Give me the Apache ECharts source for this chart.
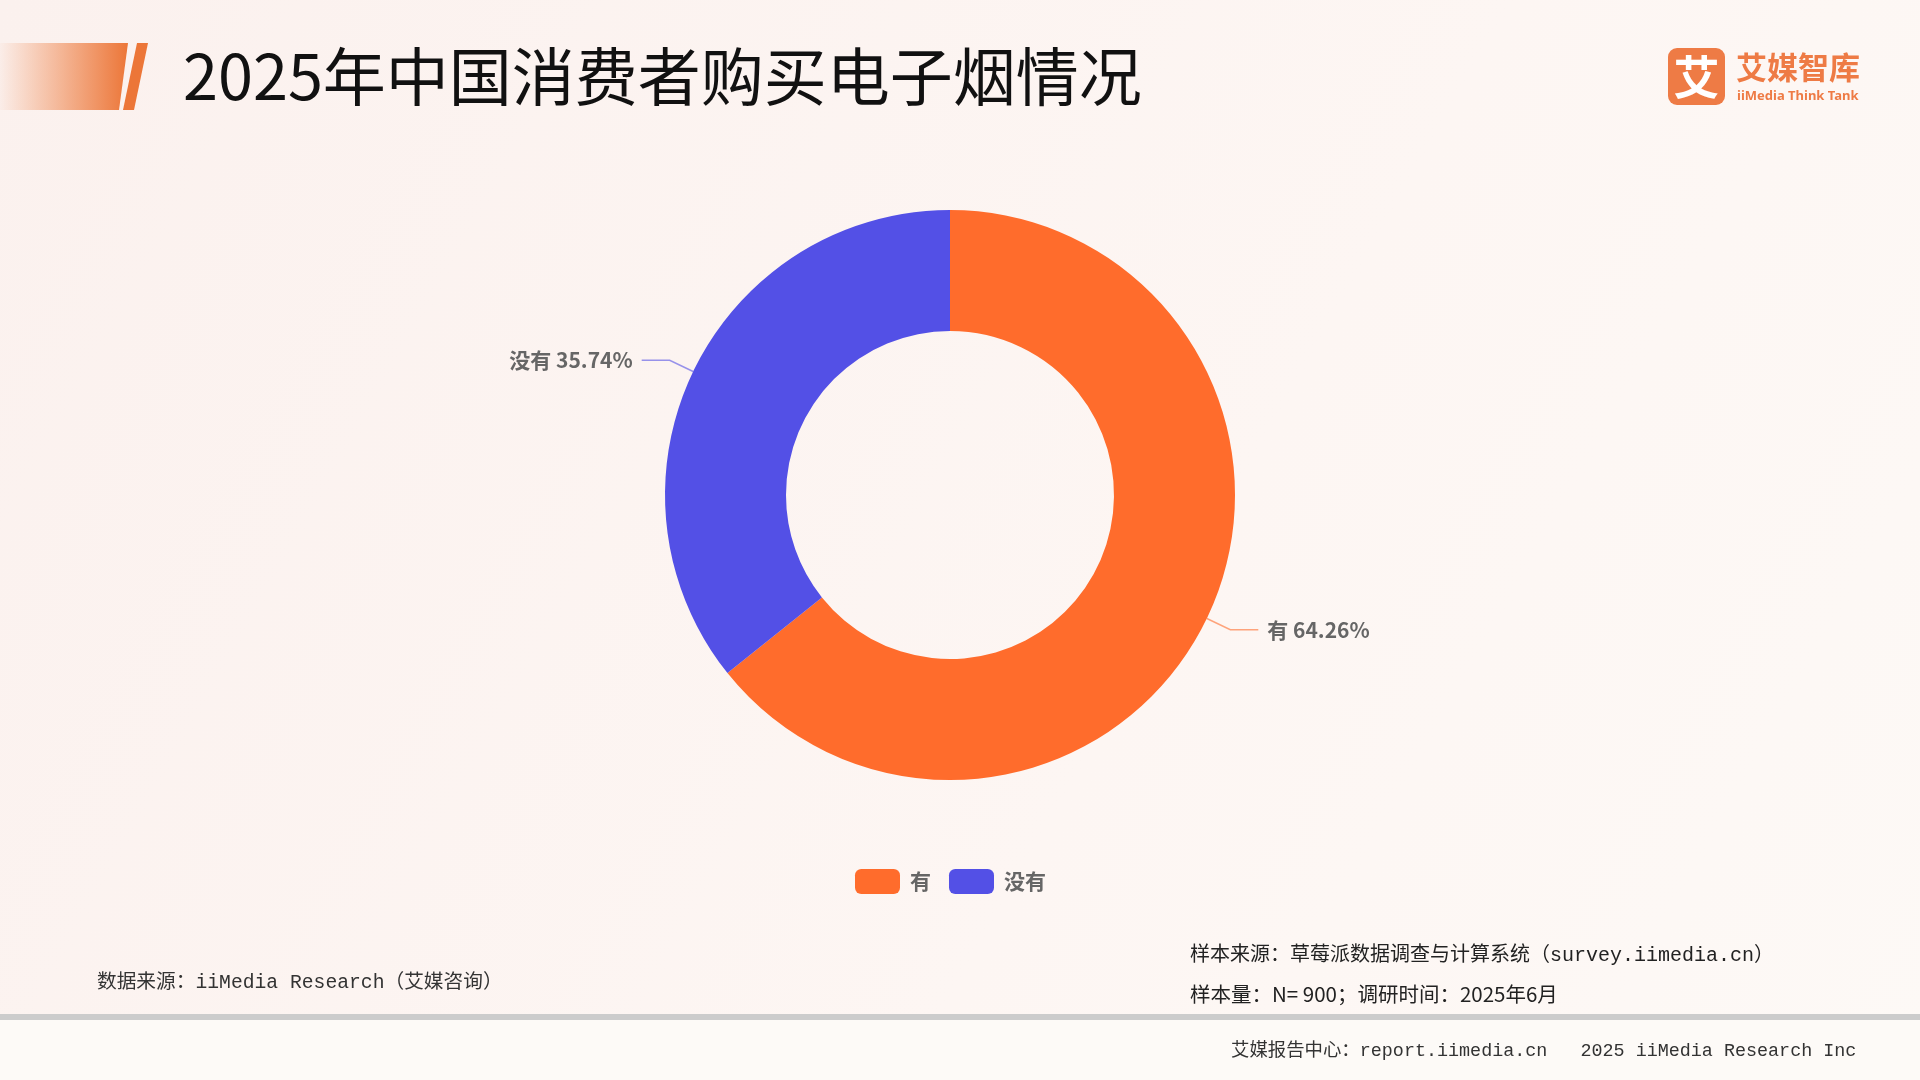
<!DOCTYPE html>
<html>
<head>
<meta charset="utf-8">
<script src="https://cdn.jsdelivr.net/npm/echarts@6/dist/echarts.min.js"></script>
<style>
html,body{margin:0;padding:0;width:1920px;height:1080px;overflow:hidden;}
#c{width:1920px;height:1080px;}
</style>
</head>
<body>
<div id="c"></div>
<script>
const titleText = '2025年中国消费者购买电子烟情况';
const categories = ['有', '没有'];
const values = [64.26, 35.74];
const colors = ['#FF6C2C', '#5350E6'];
const sourceLeft = '数据来源：iiMedia Research（艾媒咨询）';
const sampleSource = '样本来源：草莓派数据调查与计算系统（survey.iimedia.cn）';
const sampleSize = '样本量：N= 900；调研时间：2025年6月';
const footer = '艾媒报告中心：report.iimedia.cn   2025 iiMedia Research Inc';

const chart = echarts.init(document.getElementById('c'), null, {renderer: 'canvas'});
const CJK = '"Noto Sans CJK SC", "Noto Sans", sans-serif';
const MONO = '"Liberation Mono", "Noto Sans CJK SC", monospace';
const orangeBrand = '#EE7B45';

const option = {
  backgroundColor: {
    type: 'linear', x: 0, y: 0, x2: 1, y2: 1,
    colorStops: [
      {offset: 0, color: '#FBF1EE'},
      {offset: 0.6, color: '#FDF6F3'},
      {offset: 1, color: '#FDF9F6'}
    ]
  },
  color: colors,
  legend: {
    data: categories,
    left: 850,
    top: 864,
    icon: 'roundRect',
    itemWidth: 45,
    itemHeight: 25,
    itemGap: 18,
    textStyle: {fontSize: 21, color: '#666', fontFamily: CJK, fontWeight: 'bold', padding: [0, 0, 0, 5]}
  },
  graphic: [
    {
      type: 'polygon', silent: true,
      shape: {points: [[0, 43], [128, 43], [119, 110], [0, 110]]},
      style: {
        fill: {
          type: 'linear', x: 0, y: 0, x2: 1, y2: 0,
          colorStops: [
            {offset: 0, color: 'rgba(238,122,60,0.03)'},
            {offset: 1, color: 'rgba(236,118,56,1)'}
          ]
        }
      }
    },
    {
      type: 'polygon', silent: true,
      shape: {points: [[137, 43], [148, 43], [134, 110], [123, 110]]},
      style: {fill: '#EC7638'}
    },
    {
      type: 'text', silent: true,
      style: {
        text: titleText, x: 183, y: 76,
        verticalAlign: 'middle', align: 'left',
        font: '63px ' + CJK, fill: '#111'
      }
    },
    {
      type: 'rect', silent: true,
      shape: {x: 1668, y: 48, width: 57, height: 57, r: 9},
      style: {fill: orangeBrand}
    },
    {
      type: 'text', silent: true,
      style: {
        text: '艾', x: 1696.5, y: 77, align: 'center', verticalAlign: 'middle',
        font: 'bold 46px ' + CJK, fill: '#fff'
      }
    },
    {
      type: 'text', silent: true,
      style: {
        text: '艾媒智库', x: 1736, y: 67, align: 'left', verticalAlign: 'middle',
        font: 'bold 31px ' + CJK, fill: orangeBrand
      }
    },
    {
      type: 'text', silent: true,
      style: {
        text: 'iiMedia Think Tank', x: 1737, y: 96, align: 'left', verticalAlign: 'middle',
        font: 'bold 13px "Noto Sans", sans-serif', fill: orangeBrand
      }
    },
    {
      type: 'text', silent: true,
      style: {
        text: sourceLeft, x: 97, y: 983, align: 'left', verticalAlign: 'middle',
        font: '19.7px ' + MONO, fill: '#333'
      }
    },
    {
      type: 'text', silent: true,
      style: {
        text: sampleSource, x: 1190, y: 956, align: 'left', verticalAlign: 'middle',
        font: '20px ' + MONO, fill: '#222'
      }
    },
    {
      type: 'text', silent: true,
      style: {
        text: sampleSize, x: 1190, y: 994, align: 'left', verticalAlign: 'middle',
        font: '20.5px ' + CJK, fill: '#222'
      }
    },
    {
      type: 'rect', silent: true,
      shape: {x: 0, y: 1020, width: 1920, height: 60},
      style: {fill: '#FDFAF7'}
    },
    {
      type: 'rect', silent: true,
      shape: {x: 0, y: 1014, width: 1920, height: 6},
      style: {fill: '#CCCCCC'}
    },
    {
      type: 'text', silent: true,
      style: {
        text: footer, x: 1231, y: 1051, align: 'left', verticalAlign: 'middle',
        font: '18.4px ' + MONO, fill: '#333'
      }
    }
  ],
  series: [{
    type: 'pie',
    center: [950, 495],
    radius: [164, 285],
    startAngle: 90,
    clockwise: true,
    avoidLabelOverlap: false,
    label: {
      show: true,
      formatter: '{b} {c}%',
      fontSize: 21,
      fontWeight: 'bold',
      color: '#666',
      fontFamily: CJK,
      distanceToLabelLine: 9
    },
    labelLine: {
      show: true,
      length: 26,
      length2: 28,
      smooth: false,
      lineStyle: {width: 1.5, opacity: 0.6}
    },
    emphasis: {disabled: true},
    data: categories.map((n, i) => ({name: n, value: values[i]}))
  }]
};
chart.setOption(option);
</script>
</body>
</html>
